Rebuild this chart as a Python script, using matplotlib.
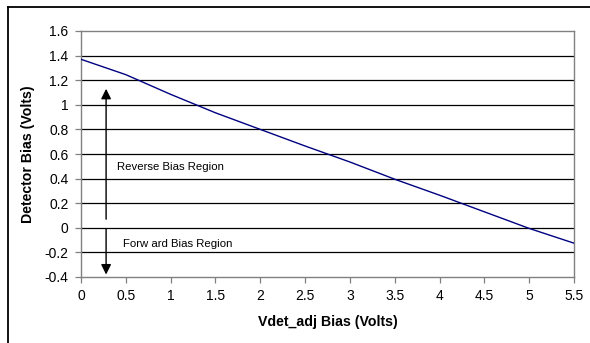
import matplotlib
matplotlib.use('Agg')
import matplotlib.pyplot as plt
from matplotlib.lines import Line2D

plt.rcParams['font.family'] = ['Liberation Sans', 'DejaVu Sans']

# data
vdet_adj = [0.0, 0.5, 1.0, 1.5, 2.0, 2.5, 3.0, 3.5, 4.0, 4.5, 5.0, 5.5]
detector_bias = [1.37, 1.245, 1.085, 0.935, 0.80, 0.665, 0.535, 0.395, 0.265, 0.13, -0.005, -0.125]

x_ticks = [0, 0.5, 1, 1.5, 2, 2.5, 3, 3.5, 4, 4.5, 5, 5.5]
x_labels = ['0', '0.5', '1', '1.5', '2', '2.5', '3', '3.5', '4', '4.5', '5', '5.5']
y_ticks = [-0.4, -0.2, 0, 0.2, 0.4, 0.6, 0.8, 1.0, 1.2, 1.4, 1.6]
y_labels = ['-0.4', '-0.2', '0', '0.2', '0.4', '0.6', '0.8', '1', '1.2', '1.4', '1.6']

fig = plt.figure(figsize=(5.9, 3.43), dpi=100)
ax = fig.add_axes([81 / 590, 1 - 277 / 343, (574 - 81) / 590, (277 - 31) / 343])

# gridlines
for y in y_ticks[1:-1]:
    ax.axhline(y, color='black', lw=0.9, zorder=1)

ax.plot(vdet_adj, detector_bias, color='#000080', lw=1.0, zorder=3)

# arrows for bias regions
ax.annotate('', xy=(0.28, 1.13), xytext=(0.28, 0.07),
            arrowprops=dict(arrowstyle='-|>', color='black', lw=1.0,
                            mutation_scale=15, shrinkA=0, shrinkB=0))
ax.annotate('', xy=(0.28, -0.38), xytext=(0.28, -0.01),
            arrowprops=dict(arrowstyle='-|>', color='black', lw=1.0,
                            mutation_scale=15, shrinkA=0, shrinkB=0))
ax.text(0.4, 0.495, 'Reverse Bias Region', fontsize=8.2, va='center', ha='left')
ax.text(0.47, -0.13, 'Forw ard Bias Region', fontsize=8.2, va='center', ha='left')

ax.set_xlim(0, 5.5)
ax.set_ylim(-0.4, 1.6)
ax.set_xticks(x_ticks)
ax.set_xticklabels(x_labels, fontsize=10)
ax.set_yticks(y_ticks)
ax.set_yticklabels(y_labels, fontsize=10)
ax.tick_params(direction='out', length=4, width=0.9, color='#808080', pad=5)
for s in ax.spines.values():
    s.set_color('#808080')
    s.set_linewidth(1.0)

ax.set_xlabel('Vdet_adj Bias (Volts)', fontsize=10.2, fontweight='bold', labelpad=8)
ax.set_ylabel('Detector Bias (Volts)', fontsize=10.2, fontweight='bold', labelpad=7)

# outer frame fragment (left and top edges)
fig.add_artist(Line2D([8 / 590, 8 / 590], [0, 1 - 7 / 343], color='black', lw=1.3,
                      transform=fig.transFigure))
fig.add_artist(Line2D([8 / 590, 1], [1 - 7 / 343, 1 - 7 / 343], color='black', lw=1.3,
                      transform=fig.transFigure))

fig.savefig('out.png', dpi=100)
